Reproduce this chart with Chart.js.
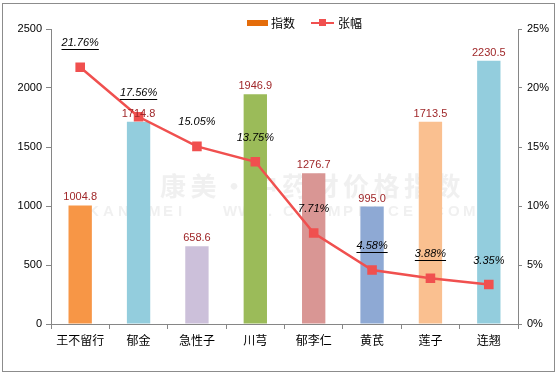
<!DOCTYPE html>
<html>
<head>
<meta charset="utf-8">
<script src="https://cdn.jsdelivr.net/npm/chart.js@4.4.1/dist/chart.umd.min.js"></script>
<style>
  html, body { margin: 0; padding: 0; background: #fff; }
  #wrap { width: 558px; height: 376px; }
</style>
</head>
<body>
<div id="wrap"><canvas id="herbChart" width="558" height="376"></canvas></div>
<script>
// data
var herbNames = ['王不留行', '郁金', '急性子', '川芎', '郁李仁', '黄芪', '莲子', '连翘'];
var indexValues = [1004.8, 1714.8, 658.6, 1946.9, 1276.7, 995.0, 1713.5, 2230.5];
var riseValues = [21.76, 17.56, 15.05, 13.75, 7.71, 4.58, 3.88, 3.35];
var leftTicks = [0, 500, 1000, 1500, 2000, 2500];
var rightTicks = [0, 5, 10, 15, 20, 25];

var barColors = ['#F79646', '#93CDDD', '#CCC0DA', '#9BBB59', '#D99694', '#8EA9D4', '#FAC090', '#93CDDD'];
var underlined = [true, true, false, false, false, true, true, false];
var lineRed = '#F0504F';
var numFont = '"Liberation Sans", Arial, sans-serif';
var cjkFont = '"Noto Sans CJK SC", sans-serif';

// frame, watermark and legend
var decorPlugin = {
  id: 'decor',
  beforeDraw: function(chart) {
    var c = chart.ctx;
    c.save();
    c.fillStyle = '#fff';
    c.fillRect(0, 0, chart.width, chart.height);
    c.strokeStyle = '#8C8C8C';
    c.lineWidth = 1;
    c.strokeRect(2.5, 3.5, 552, 368);
    // faint watermark
    c.fillStyle = 'rgba(205,205,205,0.3)';
    c.textBaseline = 'middle';
    c.font = 'bold 26px ' + cjkFont;
    var wm = '康美·中药材价格指数';
    for (var k = 0; k < wm.length; k++) {
      c.fillText(wm[k], 160 + k * 30.5, 186);
    }
    c.font = 'bold 15px ' + numFont;
    var wm2 = 'KANGMEI  WWW.CNKMPRICE.COM';
    for (var j = 0; j < wm2.length; j++) {
      c.fillText(wm2[j], 88 + j * 15, 212);
    }
    c.restore();
  },
  afterDraw: function(chart) {
    var c = chart.ctx;
    c.save();
    c.fillStyle = '#E46C0A';
    c.fillRect(247, 20, 21, 6);
    c.fillStyle = '#000';
    c.font = '12px ' + cjkFont;
    c.textBaseline = 'middle';
    c.fillText('指数', 271, 23);
    c.strokeStyle = lineRed;
    c.lineWidth = 2;
    c.beginPath();
    c.moveTo(311, 23);
    c.lineTo(334, 23);
    c.stroke();
    c.fillStyle = lineRed;
    c.fillRect(319, 19, 7, 7);
    c.fillStyle = '#000';
    c.fillText('张幅', 338, 23);
    c.restore();
  }
};

// value labels over bars and points
var labelPlugin = {
  id: 'valueLabels',
  afterDatasetsDraw: function(chart) {
    var c = chart.ctx;
    c.save();
    c.textAlign = 'center';
    c.textBaseline = 'middle';
    var barMeta = chart.getDatasetMeta(1);
    c.font = '11px ' + numFont;
    c.fillStyle = '#A0282A';
    barMeta.data.forEach(function(bar, i) {
      c.fillText(indexValues[i].toFixed(1), bar.x, bar.y - 8);
    });
    var lineMeta = chart.getDatasetMeta(0);
    c.font = 'italic 11px ' + numFont;
    c.fillStyle = '#000';
    c.strokeStyle = '#000';
    c.lineWidth = 1;
    lineMeta.data.forEach(function(pt, i) {
      var txt = riseValues[i].toFixed(2) + '%';
      var y = pt.y - 24;
      c.fillText(txt, pt.x, y);
      if (underlined[i]) {
        var w = c.measureText(txt).width;
        c.beginPath();
        c.moveTo(pt.x - w / 2, Math.round(y + 6) + 0.5);
        c.lineTo(pt.x + w / 2, Math.round(y + 6) + 0.5);
        c.stroke();
      }
    });
    c.restore();
  }
};

var ctx = document.getElementById('herbChart');
new Chart(ctx, {
  type: 'bar',
  data: {
    labels: herbNames,
    datasets: [{
      type: 'line',
      label: '张幅',
      data: riseValues,
      yAxisID: 'y1',
      borderColor: lineRed,
      backgroundColor: lineRed,
      borderWidth: 2.5,
      pointStyle: 'rect',
      pointRadius: 5,
      pointHoverRadius: 5,
      tension: 0,
      order: 0
    }, {
      label: '指数',
      data: indexValues,
      yAxisID: 'y',
      backgroundColor: barColors,
      categoryPercentage: 1,
      barPercentage: 0.4,
      order: 1
    }]
  },
  options: {
    responsive: false,
    animation: false,
    layout: { padding: { top: 29, right: 0, bottom: 0, left: 0 } },
    plugins: {
      legend: { display: false },
      tooltip: { enabled: false }
    },
    scales: {
      x: {
        grid: { display: true, drawOnChartArea: false, drawTicks: true, tickLength: 5, color: '#868686', offset: true },
        border: { display: true, color: '#868686' },
        ticks: { color: '#000', font: { family: cjkFont, size: 12 }, padding: 4 },
        afterFit: function(axis) { axis.height = 52; }
      },
      y: {
        position: 'left',
        min: 0, max: 2500,
        afterBuildTicks: function(axis) { axis.ticks = leftTicks.map(function(v) { return { value: v }; }); },
        grid: { drawOnChartArea: false, drawTicks: true, tickLength: 5, color: '#868686' },
        border: { display: true, color: '#868686' },
        ticks: { color: '#000', font: { family: numFont, size: 11 }, padding: 4,
          callback: function(v) { return String(v); } },
        afterFit: function(axis) { axis.width = 51; }
      },
      y1: {
        position: 'right',
        min: 0, max: 25,
        afterBuildTicks: function(axis) { axis.ticks = rightTicks.map(function(v) { return { value: v }; }); },
        grid: { drawOnChartArea: false, drawTicks: true, tickLength: 4, color: '#868686' },
        border: { display: true, color: '#868686' },
        ticks: { color: '#000', font: { family: numFont, size: 11 }, padding: 5,
          callback: function(v) { return v + '%'; } },
        afterFit: function(axis) { axis.width = 40; }
      }
    }
  },
  plugins: [decorPlugin, labelPlugin]
});
</script>
</body>
</html>
